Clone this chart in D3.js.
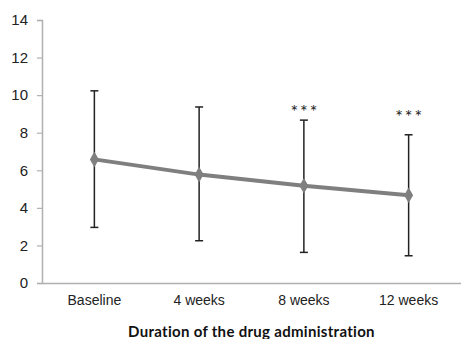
<!DOCTYPE html>
<html>
<head>
<meta charset="utf-8">
<script src="https://cdn.jsdelivr.net/npm/d3@7"></script>
<style>
  body { margin: 0; background: #fff; }
  svg { display: block; font-family: Lato, "Open Sans", sans-serif; }
</style>
</head>
<body>
<div class="chart"></div>
<script>
// data
var categories = ["Baseline", "4 weeks", "8 weeks", "12 weeks"];
var means = [6.58, 5.77, 5.18, 4.67];
var upper = [10.23, 9.37, 8.67, 7.89];
var lower = [2.96, 2.25, 1.63, 1.45];
var stars = ["", "", "***", "***"];
var starLevel = [0, 0, 8.8, 8.5];
var yTicks = [0, 2, 4, 6, 8, 10, 12, 14];

var svgWidth = 461;
var svgHeight = 339;
var margin = { top: 20, right: 0, bottom: 56, left: 42 };
var width = svgWidth - margin.left - margin.right;
var height = svgHeight - margin.top - margin.bottom;

var svg = d3.select(".chart").append("svg")
  .attr("width", svgWidth)
  .attr("height", svgHeight);

var chartGroup = svg.append("g")
  .attr("transform", `translate(${margin.left}, ${margin.top})`);

var xScale = d3.scaleBand().domain(categories).range([0, width]);
var yScale = d3.scaleLinear().domain([0, 14]).range([height, 0]);

// y axis
var yAxis = chartGroup.append("g")
  .call(d3.axisLeft(yScale).tickValues(yTicks).tickSize(5).tickPadding(9));
yAxis.select(".domain").attr("stroke", "#b0b0b0").attr("stroke-width", 1.5);
yAxis.selectAll(".tick line").attr("stroke", "#b0b0b0").attr("stroke-width", 1.2);
yAxis.selectAll(".tick text").attr("fill", "#222").style("font-size", "15px");

// x axis
var xAxis = chartGroup.append("g")
  .attr("transform", `translate(0, ${height})`)
  .call(d3.axisBottom(xScale).tickSize(0).tickPadding(12));
xAxis.select(".domain").attr("stroke", "#b0b0b0").attr("stroke-width", 1.5);
xAxis.selectAll(".tick text").attr("fill", "#222").style("font-size", "14px");

var cx = d => xScale(d) + xScale.bandwidth() / 2;

// error bars
var bars = chartGroup.selectAll(".err")
  .data(categories)
  .enter()
  .append("g")
  .attr("class", "err")
  .attr("stroke", "#222")
  .attr("stroke-width", 1.5);

bars.append("line")
  .attr("x1", d => cx(d)).attr("x2", d => cx(d))
  .attr("y1", (d, i) => yScale(upper[i]))
  .attr("y2", (d, i) => yScale(lower[i]));
bars.append("line")
  .attr("x1", d => cx(d) - 4).attr("x2", d => cx(d) + 4)
  .attr("y1", (d, i) => yScale(upper[i]))
  .attr("y2", (d, i) => yScale(upper[i]));
bars.append("line")
  .attr("x1", d => cx(d) - 4).attr("x2", d => cx(d) + 4)
  .attr("y1", (d, i) => yScale(lower[i]))
  .attr("y2", (d, i) => yScale(lower[i]));

// mean line
var line = d3.line()
  .x((d, i) => cx(categories[i]))
  .y(d => yScale(d));

chartGroup.append("path")
  .datum(means)
  .attr("fill", "none")
  .attr("stroke", "#7f7f7f")
  .attr("stroke-width", 4)
  .attr("d", line);

chartGroup.selectAll(".marker")
  .data(means)
  .enter()
  .append("path")
  .attr("class", "marker")
  .attr("d", d3.symbol().type(d3.symbolDiamond).size(70))
  .attr("transform", (d, i) => `translate(${cx(categories[i])}, ${yScale(d)})`)
  .attr("fill", "#7f7f7f");

// significance stars
chartGroup.selectAll(".star")
  .data(stars)
  .enter()
  .append("text")
  .attr("x", (d, i) => cx(categories[i]) + 1)
  .attr("y", (d, i) => yScale(starLevel[i]))
  .attr("text-anchor", "middle")
  .attr("fill", "#222")
  .style("font-size", "18px")
  .style("letter-spacing", "2px")
  .text(d => d);

// x axis title
svg.append("text")
  .attr("x", margin.left + width / 2)
  .attr("y", 337)
  .attr("text-anchor", "middle")
  .attr("fill", "#111")
  .style("font-size", "15px")
  .style("font-weight", "bold")
  .style("letter-spacing", "0.3px")
  .text("Duration of the drug administration");
</script>
</body>
</html>
